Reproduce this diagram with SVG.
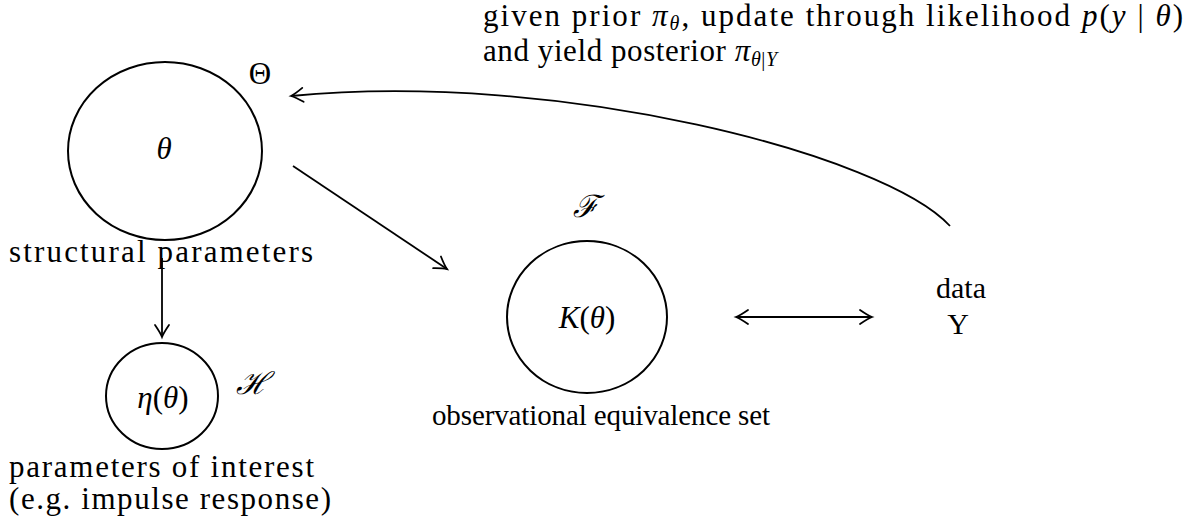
<svg xmlns="http://www.w3.org/2000/svg" width="1192" height="525" viewBox="0 0 1192 525">
<style>
text{font-family:"Liberation Serif","DejaVu Serif",serif;font-size:31px;fill:#000}
.m{font-style:italic}
.s{font-size:20px}
.node{fill:none;stroke:#000;stroke-width:2}
.edge{fill:none;stroke:#000;stroke-width:1.8}
</style>
<defs>
<marker id="ah" markerUnits="userSpaceOnUse" markerWidth="20" markerHeight="20" refX="0" refY="0" viewBox="-14 -10 16 20" orient="auto-start-reverse">
<path d="M-12,-7 Q-4,-1.5 0,0 Q-4,1.5 -12,7" fill="none" stroke="#000" stroke-width="1.8" stroke-linecap="round"/>
</marker>
</defs>
<g id="connectors">
<path class="edge" d="M950,226 C885,155 560,70 291,96" marker-end="url(#ah)"/>
<line class="edge" x1="293" y1="166" x2="447" y2="269" marker-end="url(#ah)"/>
<line class="edge" x1="162" y1="258" x2="162" y2="337" marker-end="url(#ah)"/>
<line class="edge" x1="736" y1="317" x2="872" y2="317" marker-start="url(#ah)" marker-end="url(#ah)"/>
</g>
<g id="note">
<text x="483" y="26" textLength="700" lengthAdjust="spacing">given prior <tspan class="m">π</tspan><tspan class="m s" dy="4">θ</tspan><tspan dy="-4">, update through likelihood </tspan><tspan class="m">p</tspan>(<tspan class="m">y</tspan> | <tspan class="m">θ</tspan>)</text>
<text x="483" y="61" textLength="294" lengthAdjust="spacing">and yield posterior <tspan class="m">π</tspan><tspan class="m s" dy="5">θ</tspan><tspan class="s">|</tspan><tspan class="m s">Y</tspan></text>
</g>
<g id="theta">
<ellipse class="node" cx="165" cy="151" rx="97" ry="89"/>
<text x="164" y="159" text-anchor="middle" class="m">θ</text>
<text x="260" y="84" text-anchor="middle">Θ</text>
<text x="9" y="262" textLength="304" lengthAdjust="spacing">structural parameters</text>
</g>
<g id="eta">
<ellipse class="node" cx="162" cy="396" rx="56" ry="53"/>
<text x="163" y="408" text-anchor="middle"><tspan class="m">η</tspan>(<tspan class="m">θ</tspan>)</text>
<text x="252" y="394" text-anchor="middle" class="m">ℋ</text>
<text x="9" y="477" textLength="305" lengthAdjust="spacing">parameters of interest</text>
<text x="9" y="509" textLength="322" lengthAdjust="spacing">(e.g. impulse response)</text>
</g>
<g id="K">
<ellipse class="node" cx="587" cy="317" rx="80" ry="76"/>
<text x="587" y="328" text-anchor="middle"><tspan class="m">K</tspan>(<tspan class="m">θ</tspan>)</text>
<text x="586" y="217" text-anchor="middle" class="m">ℱ</text>
<text x="432" y="425" style="font-size:29px" textLength="338" lengthAdjust="spacing">observational equivalence set</text>
</g>
<g id="data">
<text x="961" y="298" text-anchor="middle" style="font-size:30px">data</text>
<text x="958" y="334" text-anchor="middle" style="font-size:30px">Y</text>
</g>
</svg>
